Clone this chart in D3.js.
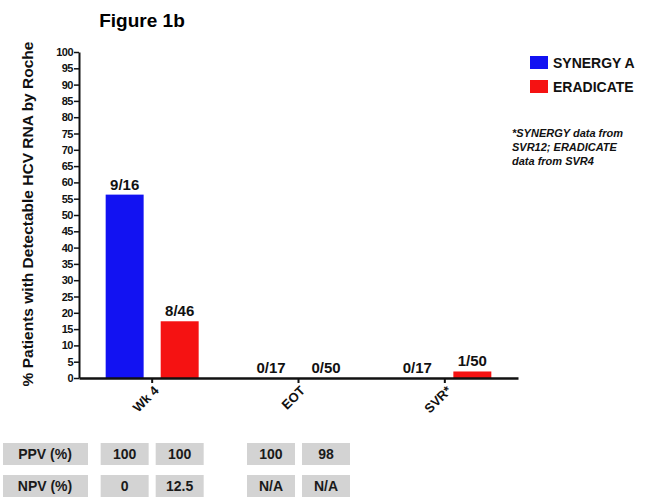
<!DOCTYPE html>
<html>
<head>
<meta charset="utf-8">
<script src="https://cdn.jsdelivr.net/npm/d3@7"></script>
<style>
  body { margin: 0; background: #fff; }
  text { font-family: "Liberation Sans", Arial, sans-serif; }
</style>
</head>
<body>
<div id="chart"></div>
<script>
// Data
const categories = ["Wk 4", "EOT", "SVR*"];
const series = ["SYNERGY A", "ERADICATE"];
const synergyPct = [56.25, 0, 0];
const eradicatePct = [17.4, 0, 2];
const synergyLabels = ["9/16", "0/17", "0/17"];
const eradicateLabels = ["8/46", "0/50", "1/50"];
const yTicks = d3.range(0, 101, 5);
const ppvValues = ["100", "100", "100", "98"];
const npvValues = ["0", "12.5", "N/A", "N/A"];
const tableCols = [["Wk 4", "SYNERGY A"], ["Wk 4", "ERADICATE"], ["EOT", "SYNERGY A"], ["EOT", "ERADICATE"]];
const colors = {"SYNERGY A": "#1212f2", "ERADICATE": "#f51212"};

const W = 645, H = 500;
const plot = {left: 79, right: 518, top: 52, bottom: 378};

const svg = d3.select("#chart").append("svg")
  .attr("width", W).attr("height", H);

// Scales
const x = d3.scaleBand().domain(categories).range([plot.left, plot.right]).padding(0);
const xSub = d3.scaleBand().domain(series).range([-46.5, 46.5]).paddingInner(0.31);
const y = d3.scaleLinear().domain([0, 100]).range([plot.bottom, plot.top]);
const cx = c => x(c) + x.bandwidth() / 2;

const rows = categories.map((c, i) => [
  {cat: c, s: "SYNERGY A", v: synergyPct[i], label: synergyLabels[i]},
  {cat: c, s: "ERADICATE", v: eradicatePct[i], label: eradicateLabels[i]}
]).flat();

// Title
svg.append("text")
  .attr("x", 142).attr("y", 27)
  .attr("text-anchor", "middle")
  .style("font-size", "19px").style("font-weight", "bold")
  .text("Figure 1b");

// Bars
svg.selectAll("rect.bar")
  .data(rows)
  .join("rect")
    .attr("class", "bar")
    .attr("x", d => cx(d.cat) + xSub(d.s))
    .attr("y", d => y(d.v))
    .attr("width", xSub.bandwidth())
    .attr("height", d => y(0) - y(d.v))
    .attr("fill", d => colors[d.s]);

// Bar labels
svg.selectAll("text.blab")
  .data(rows)
  .join("text")
    .attr("class", "blab")
    .attr("x", d => cx(d.cat) + xSub(d.s) + xSub.bandwidth() / 2)
    .attr("y", d => y(d.v) - 5)
    .attr("text-anchor", "middle")
    .style("font-size", "15px").style("font-weight", "bold")
    .style("fill", "#111")
    .text(d => d.label);

// Y axis
const yAxis = svg.append("g")
  .attr("transform", `translate(${plot.left},0)`)
  .call(d3.axisLeft(y).tickValues(yTicks).tickSize(5).tickPadding(1).tickSizeOuter(0));
yAxis.select(".domain").attr("stroke", "#111").attr("stroke-width", 2);
yAxis.selectAll(".tick line").attr("stroke", "#111").attr("stroke-width", 1.5);
yAxis.selectAll(".tick text")
  .style("font-size", "11px").style("font-weight", "bold")
  .style("letter-spacing", "-0.5px")
  .attr("fill", "#111");

// X axis
const xAxis = svg.append("g")
  .attr("transform", `translate(0,${plot.bottom})`)
  .call(d3.axisBottom(x).tickSize(5).tickSizeOuter(0));
xAxis.select(".domain").attr("stroke", "#111").attr("stroke-width", 2.5);
xAxis.selectAll(".tick line").attr("stroke", "#111").attr("stroke-width", 2);
xAxis.selectAll(".tick text")
  .attr("transform", "translate(-1,5)rotate(-45)")
  .attr("dy", "0.3em")
  .style("text-anchor", "end")
  .style("font-size", "13px").style("font-weight", "bold")
  .attr("fill", "#111");

// Y axis title
svg.append("text")
  .attr("transform", `translate(33,214)rotate(-90)`)
  .attr("text-anchor", "middle")
  .style("font-size", "15.5px").style("font-weight", "bold")
  .style("fill", "#111")
  .text("% Patients with Detectable HCV RNA by Roche");

// Legend
const legend = svg.append("g").attr("transform", "translate(530,56)");
series.forEach((s, i) => {
  legend.append("rect")
    .attr("x", 0).attr("y", i * 24)
    .attr("width", 18).attr("height", 13)
    .attr("fill", colors[s]);
  legend.append("text")
    .attr("x", 23).attr("y", i * 24 + 12)
    .style("font-size", "14px").style("font-weight", "bold")
    .style("fill", "#111")
    .text(s);
});

// Footnote
const noteLines = ["*SYNERGY data from", "SVR12; ERADICATE", "data from SVR4"];
svg.append("g").selectAll("text")
  .data(noteLines)
  .join("text")
    .attr("x", 512)
    .attr("y", (d, i) => 137 + i * 14)
    .style("font-size", "11px").style("font-weight", "bold").style("font-style", "italic")
    .style("fill", "#111")
    .text(d => d);

// PPV / NPV table
const tableRows = [["PPV (%)", ppvValues, 443], ["NPV (%)", npvValues, 475]];
tableRows.forEach(([name, vals, ty]) => {
  const g = svg.append("g");
  g.append("rect").attr("x", 3).attr("y", ty).attr("width", 85).attr("height", 22).attr("fill", "#d3d3d3");
  g.append("text").attr("x", 45).attr("y", ty + 16).attr("text-anchor", "middle")
    .style("font-size", "14px").style("font-weight", "bold").style("fill", "#1a1a1a").text(name);
  vals.forEach((v, i) => {
    const [c, s] = tableCols[i];
    const mx = cx(c) + xSub(s) + xSub.bandwidth() / 2;
    g.append("rect").attr("x", mx - 24).attr("y", ty).attr("width", 48).attr("height", 22).attr("fill", "#d3d3d3");
    g.append("text").attr("x", mx).attr("y", ty + 16).attr("text-anchor", "middle")
      .style("font-size", "14px").style("font-weight", "bold").style("fill", "#1a1a1a").text(v);
  });
});
</script>
</body>
</html>
